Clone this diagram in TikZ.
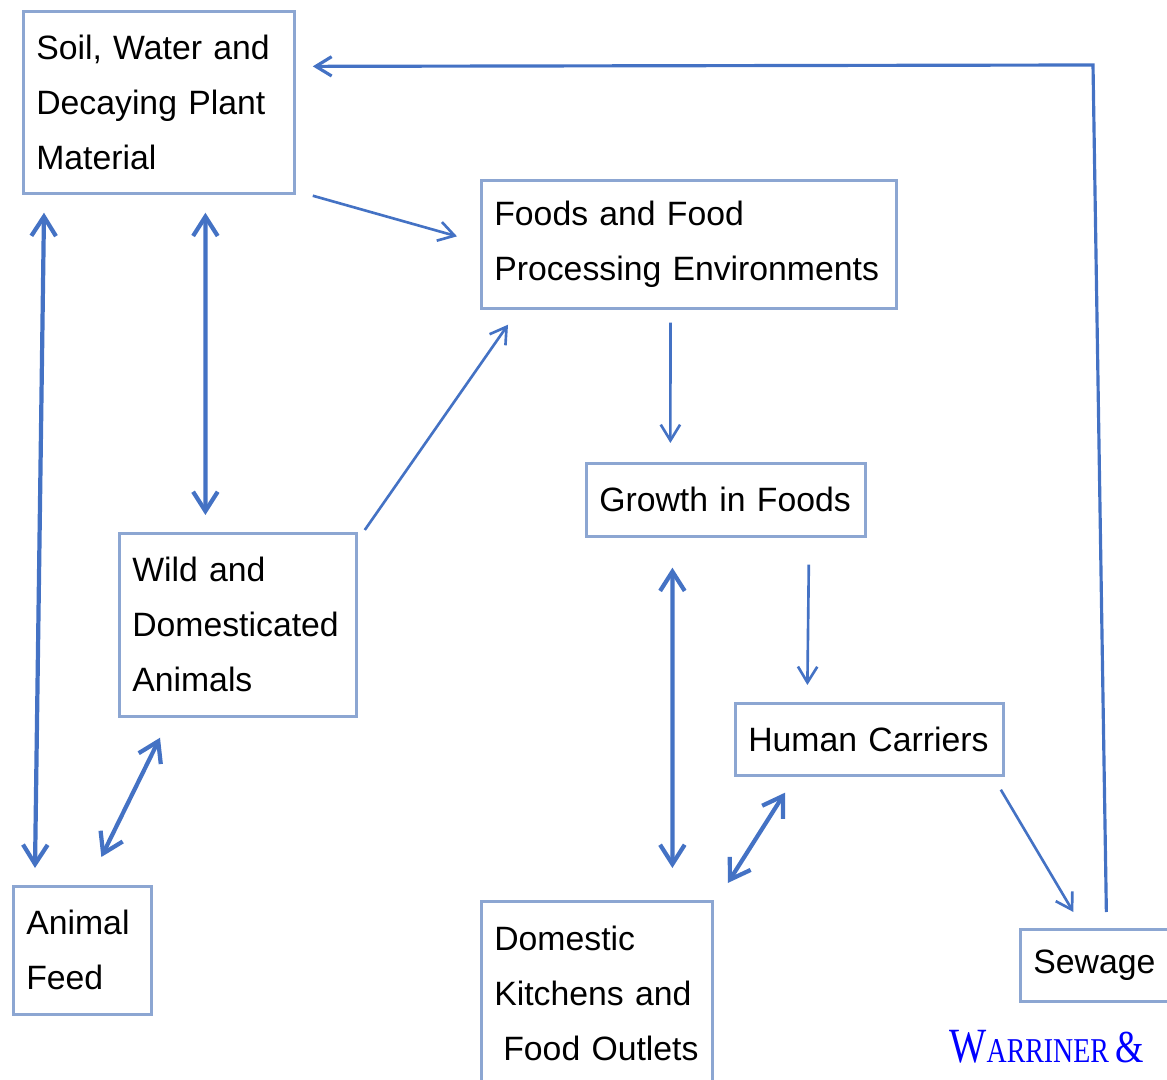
\documentclass[tikz,border=0pt]{standalone}
\usepackage{fontspec}
\setmainfont{Liberation Sans}
\newfontfamily\warfont[FakeStretch=0.8]{Liberation Serif}
\usetikzlibrary{arrows.meta,calc}
\definecolor{arrowblue}{RGB}{68,114,196}
\definecolor{boxblue}{RGB}{140,166,210}
\definecolor{credblue}{RGB}{0,0,255}

\begin{document}
\begin{tikzpicture}[x=0.01cm,y=-0.01cm,
  box/.style={rectangle,draw=boxblue,line width=0.75pt,anchor=north west,align=left,
    inner xsep=0.13cm,inner ysep=0pt,font=\fontsize{9.6}{15.65}\selectfont},
  dbl/.style={draw=arrowblue,line width=1.2pt,
    {Straight Barb[length=5.5pt,width=7pt]}-{Straight Barb[length=5.5pt,width=7pt]}},
  sgl/.style={draw=arrowblue,line width=0.75pt,-{Straight Barb[length=4.5pt,width=5.5pt]}}]
  \useasboundingbox (0,0) rectangle (1167,1080);
  \node[box,text width=2.45cm,minimum height=1.82cm] (soil) at (22,10) {Soil, Water and\\Decaying Plant\\Material};
  \node[box,text width=3.89cm,minimum height=1.28cm] (foods) at (480,179) {Foods and Food\\Processing Environments};
  \node[box,text width=2.53cm,minimum height=0.73cm] (growth) at (585,462) {Growth in Foods};
  \node[box,text width=2.11cm,minimum height=1.83cm] (wild) at (118,532) {Wild and\\Domesticated\\Animals};
  \node[box,text width=2.42cm,minimum height=0.72cm] (human) at (734,702) {Human Carriers};
  \node[box,text width=1.12cm,minimum height=1.28cm] (feed) at (12,885) {Animal\\Feed};
  \node[box,text width=2.05cm,minimum height=1.85cm] (kitchen) at (480,900) {Domestic\\Kitchens and\\\hspace*{0.09cm}Food Outlets};
  \node[box,text width=1.26cm,minimum height=0.72cm] (sewage) at (1019,928) {Sewage};
  \node[anchor=base east,inner sep=0pt,text=credblue,font=\warfont] (credit) at (1145,1062)
    {\fontsize{14}{16}\selectfont W\fontsize{9.9}{12}\selectfont ARRINER \fontsize{13}{16}\selectfont\&};
  \coordinate (bend) at (1093,65);
  \draw[sgl,line width=0.9pt] ($(sewage.north)+(10,-16)$) -- (bend) -- ($(soil.east)+(17,-36)$);
  \draw[sgl] ($(soil.south east)+(17,1)$) -- ($(foods.west)+(-23,-8)$);
  \draw[dbl] ($(soil.south)+(46.5,18)$) -- ($(wild.north)+(-32.5,-17)$);
  \draw[dbl] ($(soil.south west)+(22,18)$) -- ($(feed.north west)+(23,-17)$);
  \draw[sgl] ($(wild.north east)+(7,-2)$) -- ($(foods.south west)+(28,15)$);
  \draw[dbl] ($(wild.south west)+(42,20)$) -- ($(feed.north)+(19,-28)$);
  \draw[sgl] ($(foods.south)+(-18.5,13)$) -- ($(growth.north)+(-55.5,-19)$);
  \draw[dbl] ($(growth.south)+(-53.5,30)$) -- ($(kitchen.north)+(75.5,-32)$);
  \draw[sgl] ($(growth.south east)+(-58,27)$) -- ($(human.north)+(-62,-17)$);
  \draw[dbl] ($(human.south west)+(51,16)$) -- ($(kitchen.north east)+(14,-17)$);
  \draw[sgl] ($(human.south east)+(-4,13)$) -- ($(sewage.north)+(-23,-16)$);
\end{tikzpicture}
\end{document}
